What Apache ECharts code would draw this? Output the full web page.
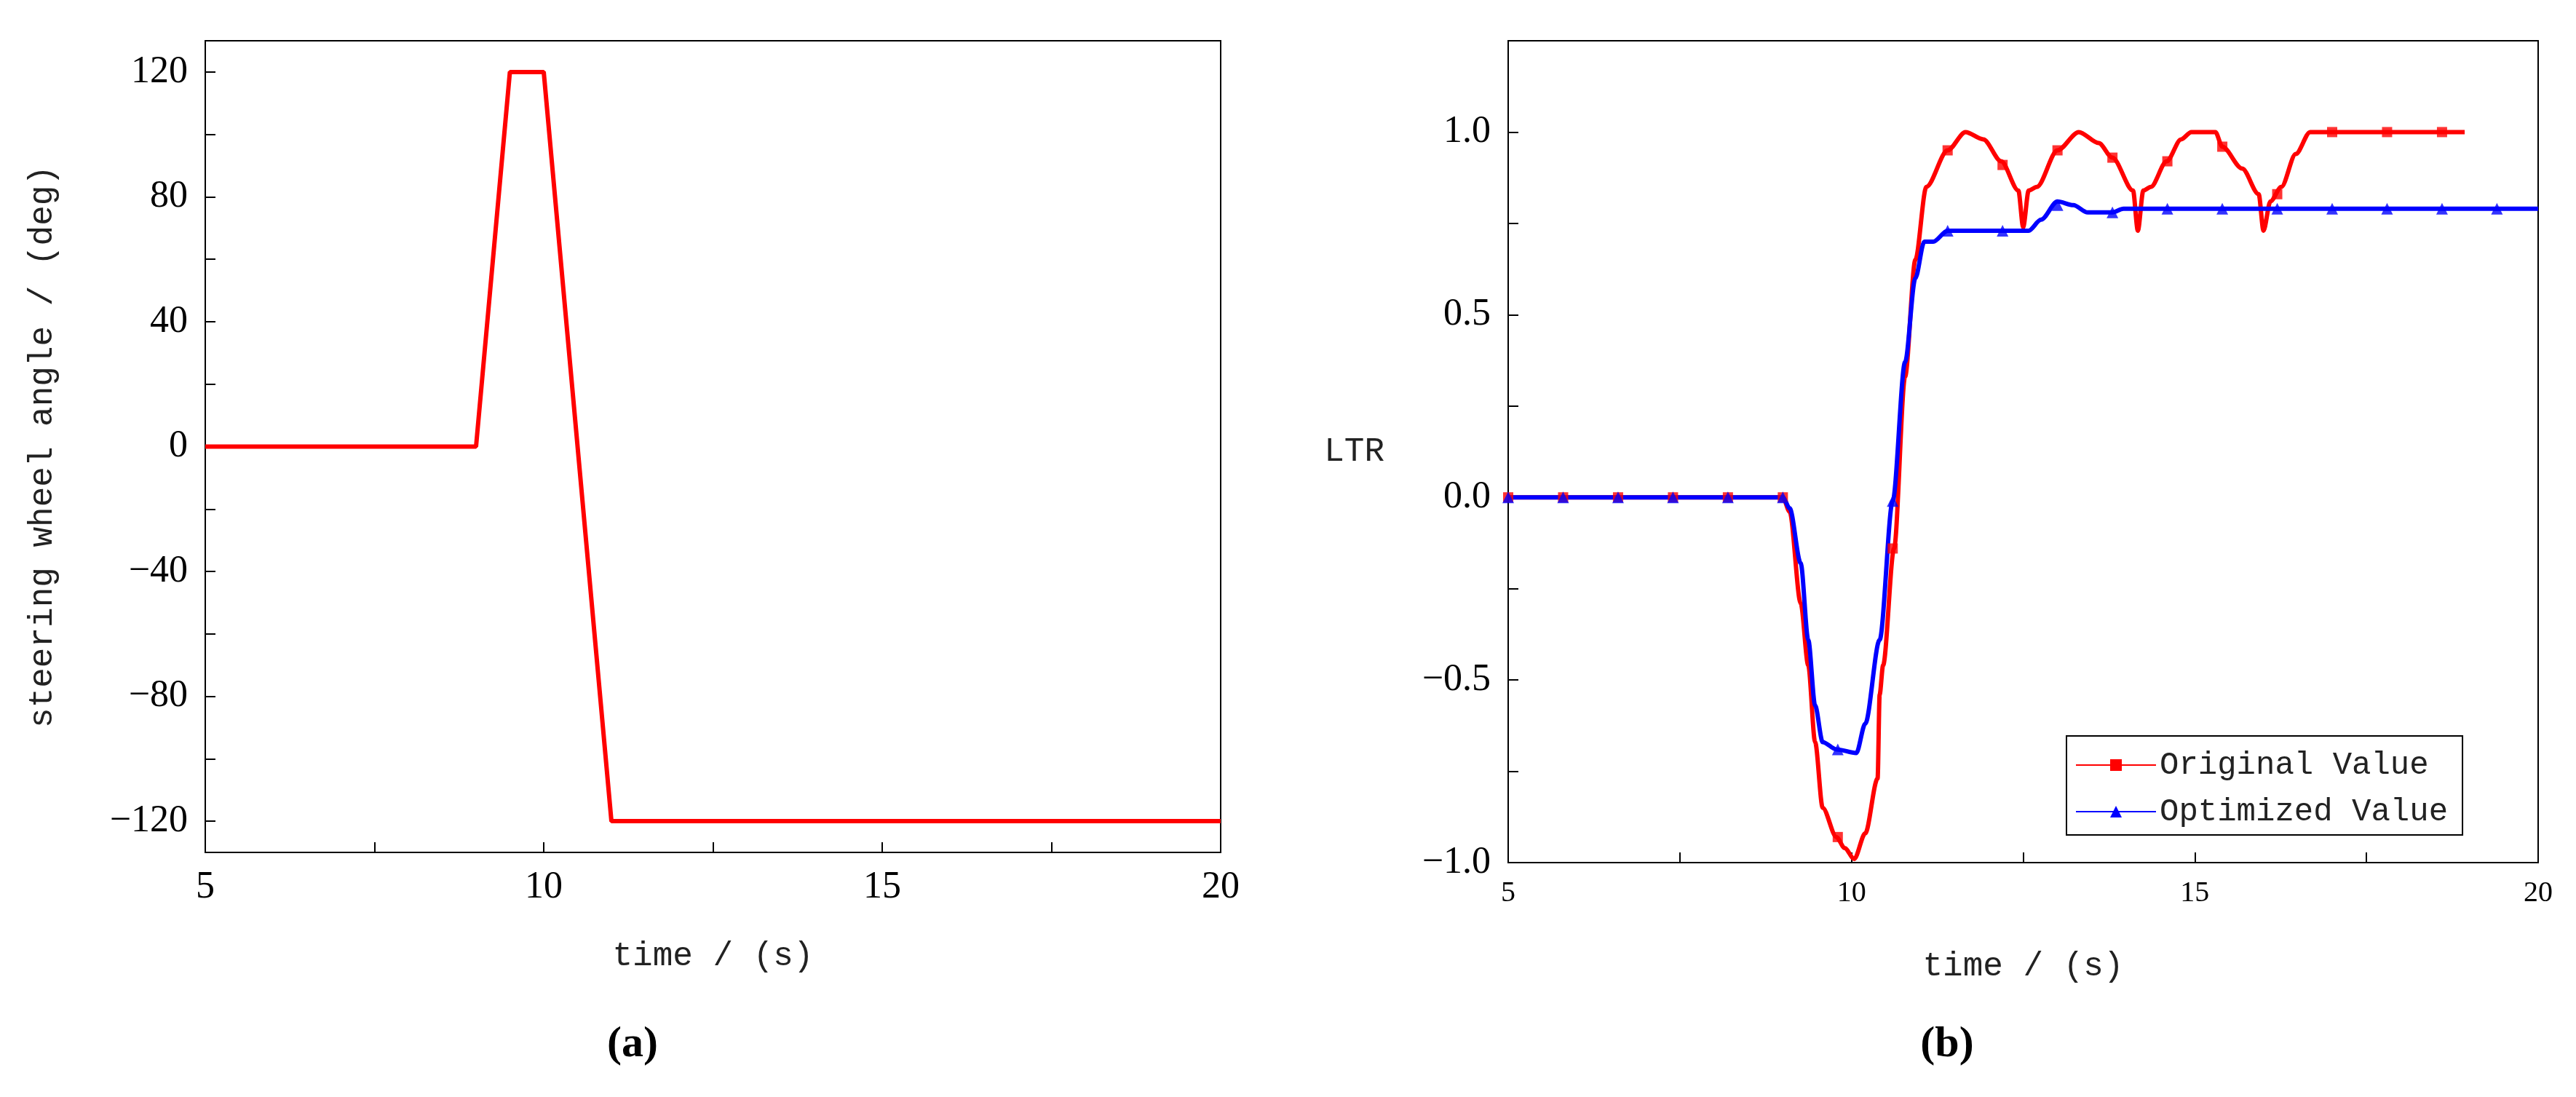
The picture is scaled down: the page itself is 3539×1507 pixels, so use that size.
<!DOCTYPE html>
<html><head><meta charset="utf-8">
<script src="https://cdn.jsdelivr.net/npm/echarts@6/dist/echarts.min.js"></script>
<style>html,body{margin:0;padding:0;background:#fff}#c{width:3539px;height:1507px}</style>
</head><body><div id="c"></div>
<script>
// (a) steering wheel angle
const steerT = [5, 9.0, 9.5, 10.0, 11.0, 20];
const steerV = [0, 0, 120, 120, -120, -120];
const steerLabelTicks = [-120, -80, -40, 0, 40, 80, 120];
const steerAllTicks = [-120, -100, -80, -60, -40, -20, 0, 20, 40, 60, 80, 100, 120];
// (b) LTR - original
const origT = [5, 9.0, 9.1, 9.26, 9.37, 9.47, 9.58, 9.78, 9.9, 10.04, 10.2, 10.38, 10.41, 10.46, 10.62, 10.78, 10.93, 11.09, 11.4, 11.66, 11.92, 12.18, 12.43, 12.5, 12.58, 12.7, 13.0, 13.31, 13.6, 13.8, 14.1, 14.17, 14.25, 14.36, 14.59, 14.8, 14.95, 15.3, 15.4, 15.69, 15.93, 16.0, 16.1, 16.26, 16.47, 16.68, 18.93];
const origV = [0, 0, -0.04, -0.29, -0.46, -0.67, -0.85, -0.93, -0.96, -0.99, -0.92, -0.77, -0.54, -0.46, -0.14, 0.33, 0.65, 0.85, 0.95, 1.0, 0.98, 0.92, 0.84, 0.74, 0.84, 0.85, 0.95, 1.0, 0.97, 0.93, 0.84, 0.73, 0.84, 0.85, 0.92, 0.98, 1.0, 1.0, 0.96, 0.9, 0.83, 0.73, 0.81, 0.85, 0.94, 1.0, 1.0];
const origMarkT = [5.0, 5.8, 6.6, 7.4, 8.2, 9.0, 9.8, 10.6, 11.4, 12.2, 13.0, 13.8, 14.6, 15.4, 16.2, 17.0, 17.8, 18.6];
const origMarkV = [0, 0, 0, 0, 0, 0, -0.93, -0.14, 0.95, 0.91, 0.95, 0.93, 0.92, 0.96, 0.83, 1.0, 1.0, 1.0];
// (b) LTR - optimized
const optT = [5, 9.0, 9.1, 9.26, 9.37, 9.47, 9.58, 9.78, 10.07, 10.2, 10.41, 10.6, 10.78, 10.93, 11.06, 11.19, 11.4, 12.5, 12.58, 12.76, 13.0, 13.23, 13.44, 13.8, 13.96, 20];
const optV = [0, 0, -0.03, -0.18, -0.39, -0.57, -0.67, -0.69, -0.70, -0.62, -0.39, -0.01, 0.37, 0.60, 0.70, 0.70, 0.73, 0.73, 0.73, 0.76, 0.81, 0.80, 0.78, 0.78, 0.79, 0.79];
const optMarkT = [5.0, 5.8, 6.6, 7.4, 8.2, 9.0, 9.8, 10.6, 11.4, 12.2, 13.0, 13.8, 14.6, 15.4, 16.2, 17.0, 17.8, 18.6, 19.4];
const optMarkV = [0, 0, 0, 0, 0, 0, -0.69, -0.01, 0.73, 0.73, 0.80, 0.78, 0.79, 0.79, 0.79, 0.79, 0.79, 0.79, 0.79];

function lineData(t, v) { return t.map((x, i) => [x, v[i]]); }

const serif = 'Liberation Serif', mono = 'Liberation Mono';
const tickStyle = { color: '#000', width: 2 };
function xAxis(gi, fs) {
  return { type: 'value', gridIndex: gi, min: 5, max: 20, interval: 5,
    axisLine: { onZero: false, lineStyle: { color: '#000', width: 2 } },
    axisTick: { inside: true, length: 14, lineStyle: tickStyle },
    minorTick: { show: true, splitNumber: 2, length: 14, lineStyle: tickStyle },
    splitLine: { show: false },
    axisLabel: { color: '#000', fontFamily: serif, fontSize: fs, margin: 22 },
    name: 'time / (s)', nameLocation: 'middle', nameGap: 120,
    nameTextStyle: { color: '#222', fontFamily: mono, fontSize: 46 } };
}

const chart = echarts.init(document.getElementById('c'), null, { renderer: 'canvas' });
chart.setOption({
  animation: false,
  backgroundColor: '#fff',
  title: [
    { text: '(a)', left: 864, top: 1400, textAlign: 'center', textStyle: { fontFamily: serif, fontWeight: 'bold', fontSize: 60, color: '#000' } },
    { text: '(b)', left: 2670, top: 1400, textAlign: 'center', textStyle: { fontFamily: serif, fontWeight: 'bold', fontSize: 60, color: '#000' } }
  ],
  grid: [
    { left: 282, top: 56, width: 1395, height: 1115, show: true, borderColor: '#000', borderWidth: 2 },
    { left: 2072, top: 56, width: 1415, height: 1129, show: true, borderColor: '#000', borderWidth: 2 }
  ],
  xAxis: [xAxis(0, 52), xAxis(1, 40)],
  yAxis: [
    { type: 'value', gridIndex: 0, min: -130, max: 130,
      axisLine: { onZero: false, lineStyle: { color: '#000', width: 2 } },
      axisTick: { inside: true, length: 14, lineStyle: tickStyle, customValues: steerAllTicks },
      splitLine: { show: false },
      axisLabel: { color: '#000', fontFamily: serif, fontSize: 52, margin: 24, customValues: steerLabelTicks,
        formatter: v => String(v).replace('-', '−') },
      name: 'steering wheel angle / (deg)', nameLocation: 'middle', nameGap: 200,
      nameTextStyle: { color: '#222', fontFamily: mono, fontSize: 46 } },
    { type: 'value', gridIndex: 1, min: -1, max: 1.25, interval: 0.5,
      axisLine: { onZero: false, lineStyle: { color: '#000', width: 2 } },
      axisTick: { inside: true, length: 14, lineStyle: tickStyle },
      minorTick: { show: true, splitNumber: 2, length: 14, lineStyle: tickStyle },
      splitLine: { show: false },
      axisLabel: { color: '#000', fontFamily: serif, fontSize: 52, margin: 24,
        formatter: v => v > 1.01 ? '' : v.toFixed(1).replace('-', '−') },
      name: 'LTR', nameLocation: 'middle', nameGap: 170, nameRotate: 0,
      nameTextStyle: { color: '#222', fontFamily: mono, fontSize: 46 } }
  ],
  legend: {
    left: 2839, top: 1011, width: 630, height: 129, orient: 'vertical',
    borderColor: '#000', borderWidth: 2, padding: [18, 20, 10, 12],
    itemWidth: 110, itemHeight: 20, itemGap: 20,
    textStyle: { fontFamily: mono, fontSize: 44, color: '#222' },
    data: ['Original Value', 'Optimized Value']
  },
  series: [
    { type: 'line', xAxisIndex: 0, yAxisIndex: 0, data: lineData(steerT, steerV),
      showSymbol: false, lineStyle: { color: '#ff0000', width: 6 }, itemStyle: { color: '#ff0000' } },
    { name: 'Original Value', type: 'line', xAxisIndex: 1, yAxisIndex: 1, data: lineData(origT, origV),
      smooth: 0.3, smoothMonotone: 'x', showSymbol: false, symbol: 'rect', symbolSize: 14,
      lineStyle: { color: '#ff0000', width: 6 }, itemStyle: { color: '#ff0000' }, z: 3 },
    { name: 'Optimized Value', type: 'line', xAxisIndex: 1, yAxisIndex: 1, data: lineData(optT, optV),
      smooth: 0.3, smoothMonotone: 'x', showSymbol: false, symbol: 'triangle', symbolSize: 16,
      lineStyle: { color: '#0000ff', width: 6 }, itemStyle: { color: '#0000ff' }, z: 4 },
    { name: 'Original Value', type: 'scatter', xAxisIndex: 1, yAxisIndex: 1, data: lineData(origMarkT, origMarkV),
      symbol: 'rect', symbolSize: 14, itemStyle: { color: '#ff0000' }, z: 5 },
    { name: 'Optimized Value', type: 'scatter', xAxisIndex: 1, yAxisIndex: 1, data: lineData(optMarkT, optMarkV),
      symbol: 'triangle', symbolSize: 16, itemStyle: { color: '#0000ff' }, z: 6 }
  ]
});
</script></body></html>
